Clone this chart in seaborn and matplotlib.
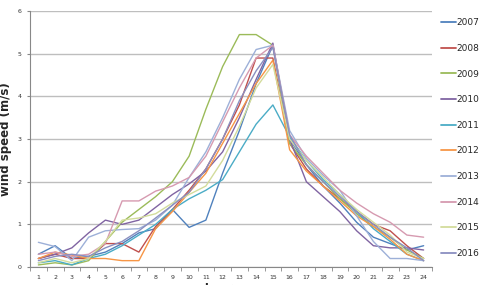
import pandas as pd
import seaborn as sns
import matplotlib.pyplot as plt
from matplotlib.ticker import MultipleLocator, FixedLocator

# horas do dia e anos
hours = list(range(1, 25))
years = ['2007', '2008', '2009', '2010', '2011', '2012', '2013', '2014', '2015', '2016']

# velocidade média do vento (m/s) por hora
v2007 = [0.3, 0.5, 0.2, 0.25, 0.35, 0.55, 0.8, 0.9, 1.35, 0.93, 1.1, 2.2, 3.2, 4.3, 5.2, 3.0, 2.4, 1.9, 1.5, 1.05, 0.7, 0.55, 0.4, 0.5]
v2008 = [0.2, 0.3, 0.2, 0.2, 0.55, 0.55, 0.35, 0.95, 1.35, 1.8, 2.3, 3.0, 3.8, 4.9, 4.9, 2.9, 2.3, 1.9, 1.6, 1.3, 1.0, 0.85, 0.5, 0.2]
v2009 = [0.05, 0.1, 0.05, 0.15, 0.6, 1.05, 1.35, 1.65, 2.0, 2.6, 3.7, 4.7, 5.45, 5.45, 5.2, 2.9, 2.4, 2.0, 1.6, 1.25, 0.95, 0.7, 0.4, 0.2]
v2010 = [0.2, 0.3, 0.45, 0.8, 1.1, 1.0, 1.1, 1.4, 1.7, 1.95, 2.25, 2.7, 3.5, 4.4, 5.25, 3.0, 2.0, 1.65, 1.3, 0.85, 0.5, 0.45, 0.45, 0.4]
v2011 = [0.1, 0.15, 0.05, 0.2, 0.3, 0.5, 0.75, 1.0, 1.35, 1.6, 1.8, 2.05, 2.7, 3.35, 3.8, 3.05, 2.5, 2.05, 1.7, 1.3, 0.9, 0.6, 0.3, 0.15]
v2012 = [0.2, 0.35, 0.28, 0.2, 0.2, 0.15, 0.15, 0.9, 1.3, 1.75, 2.2, 2.9, 3.6, 4.3, 4.85, 2.75, 2.25, 1.9, 1.55, 1.2, 0.95, 0.65, 0.3, 0.15]
v2013 = [0.58, 0.48, 0.15, 0.7, 0.85, 0.88, 0.9, 1.1, 1.45, 2.1, 2.7, 3.5, 4.4, 5.1, 5.2, 3.2, 2.55, 2.15, 1.8, 1.2, 0.6, 0.2, 0.2, 0.15]
v2014 = [0.3, 0.35, 0.25, 0.3, 0.55, 1.55, 1.55, 1.78, 1.9, 2.1, 2.6, 3.4, 4.2, 4.9, 5.2, 3.1, 2.6, 2.2, 1.8, 1.5, 1.25, 1.05, 0.75, 0.7]
v2015 = [0.1, 0.2, 0.1, 0.2, 0.6, 1.1, 1.15, 1.25, 1.5, 1.7, 1.9, 2.5, 3.3, 4.2, 4.75, 3.0, 2.5, 2.1, 1.7, 1.35, 1.05, 0.75, 0.35, 0.2]
v2016 = [0.15, 0.25, 0.3, 0.25, 0.45, 0.6, 0.85, 1.15, 1.45, 1.75, 2.3, 3.0, 3.9, 4.6, 5.15, 3.1, 2.4, 2.0, 1.65, 1.3, 1.0, 0.7, 0.45, 0.15]

series = [v2007, v2008, v2009, v2010, v2011, v2012, v2013, v2014, v2015, v2016]
colors = ['#4F81BD', '#C0504D', '#9BBB59', '#8064A2', '#4BACC6',
          '#F79646', '#9DB0D8', '#D69AB0', '#D3DC9C', '#8A8FC0']

# tabela no formato longo para o seaborn
rows = []
for year, vals in zip(years, series):
    for i, v in enumerate(vals):
        rows.append({'pos': i, 'ano': year, 'vel': v})
df = pd.DataFrame(rows)

sns.set_style('white')
fig = plt.figure(figsize=(4.8, 2.85), dpi=100)
ax = fig.add_axes([0.0625, 0.063, 0.8375, 0.898])

sns.lineplot(data=df, x='pos', y='vel', hue='ano', palette=colors, linewidth=1.0, ax=ax, legend=False)

ax.set_xlim(-0.5, 23.5)
ax.set_ylim(0, 6)
ax.yaxis.set_major_locator(MultipleLocator(1))
ax.grid(axis='y', color='#BEBEBE', linewidth=1)
ax.set_axisbelow(True)

ax.set_xticks(range(24))
ax.set_xticklabels([str(h) for h in hours])
ax.xaxis.set_minor_locator(FixedLocator([i - 0.5 for i in range(25)]))
ax.tick_params(axis='x', which='major', length=0, labelsize=4.5, pad=6, colors='#333333')
ax.tick_params(axis='x', which='minor', length=3, direction='out', color='#888888', bottom=True)
ax.tick_params(axis='y', length=2, direction='out', color='#888888', labelsize=4.5, labelcolor='#333333', left=True, pad=4)

for s in ['top', 'right']:
    ax.spines[s].set_visible(False)
for s in ['left', 'bottom']:
    ax.spines[s].set_color('#888888')
    ax.spines[s].set_linewidth(0.8)

ax.set_ylabel('wind speed (m/s)', fontsize=8.5, fontweight='bold')
ax.yaxis.set_label_coords(-0.045, 0.5)
ax.set_xlabel('hour', fontsize=8, fontweight='bold')
ax.xaxis.set_label_coords(0.47, -0.064)
ax.xaxis.label.set_va('top')

# título cortado no topo, como na imagem original
fig.text(0.51, 1.028, 'Average hourly wind speed by year in July', ha='center', va='baseline',
         fontsize=10, fontweight='bold')

handles = [plt.Line2D([], [], color=c, linewidth=1.3) for c in colors]
fig.legend(handles, years, loc='upper left', bbox_to_anchor=(0.912, 0.948), frameon=False,
           fontsize=6.5, handlelength=1.6, handletextpad=0.1, labelspacing=1.84, borderaxespad=0)

plt.savefig('out.png', dpi=100)
